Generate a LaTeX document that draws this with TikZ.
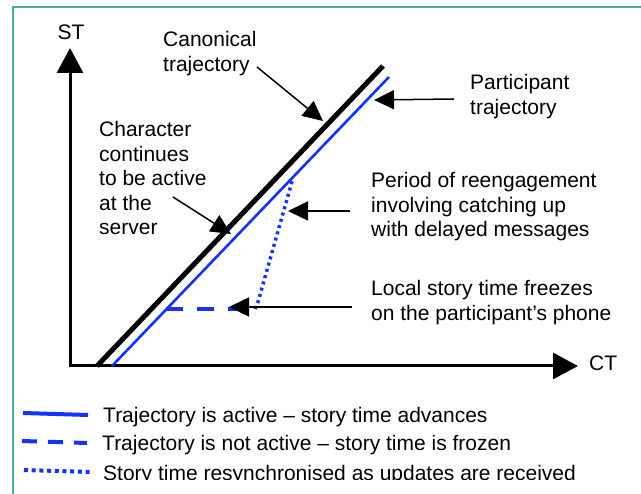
\documentclass[tikz,border=0pt]{standalone}
\usepackage{fontspec}
\setmainfont{Liberation Sans}
\usetikzlibrary{arrows.meta}
\definecolor{trajblue}{RGB}{20,50,250}
\definecolor{framegreen}{RGB}{80,175,130}
\begin{document}
\begin{tikzpicture}[x=1pt,y=-1pt,
  lbl/.style={font=\fontsize{21}{24.5}\selectfont, inner sep=0pt, align=left},
  axis/.style={line width=3pt, -{Triangle[length=25pt,width=26pt]}},
  note/.style={line width=1.5pt, -{Triangle[length=20pt,width=19pt]}},
  canon/.style={line width=5pt},
  active/.style={trajblue, line width=2.6pt},
  frozen/.style={trajblue, line width=3.5pt, dash pattern=on 17pt off 14pt},
  resync/.style={trajblue, line width=3.5pt, dash pattern=on 3pt off 3.5pt},
  legactive/.style={trajblue, line width=4pt},
  legfrozen/.style={trajblue, line width=4pt, dash pattern=on 15pt off 11pt},
  legresync/.style={trajblue, line width=4pt, dash pattern=on 4pt off 3.7pt},
]
\useasboundingbox (0,0) rectangle (641,494);
% frame
\coordinate (fbl) at (13,494);
\coordinate (ftl) at (13,7);
\coordinate (ftr) at (641,7);
\draw[framegreen, line width=2pt] (fbl) -- (ftl) -- (ftr);

% axes
\coordinate (yfoot) at (70,367.5);
\coordinate (sttip) at (70,48);
\coordinate (xfoot) at (68.5,366);
\coordinate (cttip) at (578,366);
\draw[axis] (yfoot) -- (sttip);
\draw[axis] (xfoot) -- (cttip);
\node[lbl, anchor=base] (st) at (71,40) {ST};
\node[lbl, anchor=base west] (ct) at (589,371) {CT};

% trajectories
\coordinate (c0) at (97,366);
\coordinate (c1) at (383,66);
\draw[canon] (c0) -- (c1);
\coordinate (p0) at (112,366);
\coordinate (p1) at (389,77);
\draw[active] (p0) -- (p1);
\coordinate (freeze) at (166,309);
\coordinate (resume) at (255,309);
\coordinate (bend) at (258,302);
\coordinate (rejoin) at (293,178);
\draw[frozen] (freeze) -- (resume);
\draw[resync] (resume) -- (bend) -- (rejoin);

% annotations (base anchor = baseline of the last line)
\node[lbl, anchor=base west] (canonlbl) at (163,71.5) {Canonical\\trajectory};
\node[lbl, anchor=base west] (partlbl) at (470,114.5) {Participant\\trajectory};
\node[lbl, anchor=base west] (charlbl) at (99,235) {Character\\continues\\to be active\\at the\\server};
\node[lbl, anchor=base west] (periodlbl) at (371,237) {Period of reengagement\\involving catching up\\with delayed messages};
\node[lbl, anchor=base west] (locallbl) at (371,320.5) {Local story time freezes\\on the participant’s phone};

\coordinate (canonfrom) at (257,67);
\coordinate (canonto) at (323,121);
\coordinate (partfrom) at (454,99);
\coordinate (partto) at (374,100);
\coordinate (charfrom) at (173,197);
\coordinate (charto) at (231,234);
\coordinate (periodfrom) at (350,211);
\coordinate (periodto) at (288,211);
\coordinate (localfrom) at (352,307);
\coordinate (localto) at (229,307);
\draw[note] (canonfrom) -- (canonto);
\draw[note] (partfrom) -- (partto);
\draw[note] (charfrom) -- (charto);
\draw[note] (periodfrom) -- (periodto);
\draw[note] (localfrom) -- (localto);

% legend
\coordinate (la0) at (23,413);
\coordinate (la1) at (88,415);
\coordinate (lf0) at (22,441);
\coordinate (lf1) at (87,443);
\coordinate (lr0) at (24,470);
\coordinate (lr1) at (90,472);
\draw[legactive] (la0) -- (la1);
\draw[legfrozen] (lf0) -- (lf1);
\draw[legresync] (lr0) -- (lr1);
\node[lbl, anchor=base west] (leg1) at (103,423) {Trajectory is active – story time advances};
\node[lbl, anchor=base west] (leg2) at (102,451) {Trajectory is not active – story time is frozen};
\begin{scope}
\clip (0,0) rectangle (641,480);
\node[lbl, anchor=base west] (leg3) at (103,480.5) {Story time resynchronised as updates are received};
\end{scope}
\end{tikzpicture}
\end{document}
